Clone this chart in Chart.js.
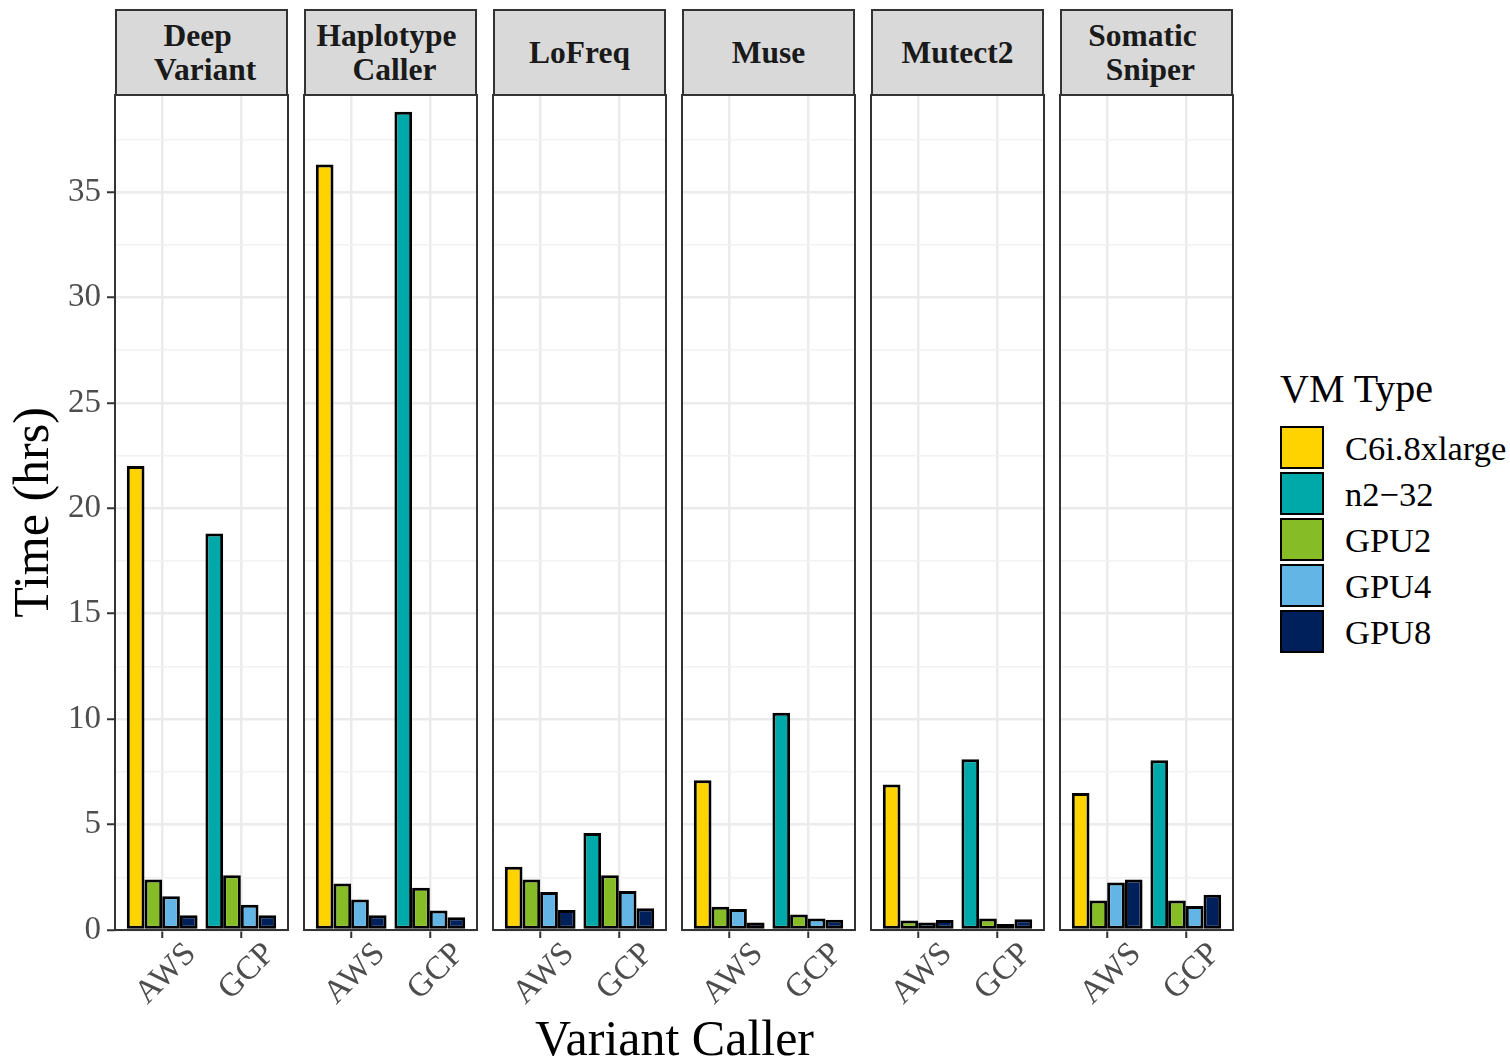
<!DOCTYPE html>
<html>
<head>
<meta charset="utf-8">
<script src="https://cdn.jsdelivr.net/npm/chart.js@4.4.1/dist/chart.umd.min.js"></script>
<style>
  body { margin: 0; background: #fff; }
  #wrap { position: relative; width: 1510px; height: 1064px; overflow: hidden; font-family: 'Liberation Serif', 'Times New Roman', Times, serif; }
  #wrap canvas { position: absolute; }
  .strip { position: absolute; top: 9px; height: 83px; width: 169px; background: #d9d9d9; border: 2px solid #333;
    display: flex; flex-direction: column; justify-content: center; align-items: center;
    font-weight: bold; font-size: 31.5px; line-height: 34px; color: #1a1a1a; white-space: pre; }
  .key { position: absolute; left: 1280px; width: 40px; height: 39px; border: 2px solid #000; }
  .keyLabel { position: absolute; left: 1345px; font-size: 34.5px; line-height: 46px; color: #000; white-space: nowrap; }
</style>
</head>
<body>
<div id="wrap">
  <div id="xTitle" style="position:absolute;left:115px;width:1119px;top:1012px;text-align:center;font-size:50px;line-height:52px;color:#000">Variant Caller</div>
  <div style="position:absolute;left:1280px;top:369px;font-size:40px;line-height:40px;color:#000">VM Type</div>
</div>
<script>
const callers = [['Deep ', ' Variant'], ['Haplotype ', ' Caller'], ['LoFreq'], ['Muse'], ['Mutect2'], ['Somatic ', ' Sniper']];
const platforms = ['AWS', 'GCP'];
const vmTypes = ['C6i.8xlarge', 'n2\u221232', 'GPU2', 'GPU4', 'GPU8'];

// hours, one value per caller (AWS uses C6i.8xlarge, GCP uses n2-32 for the CPU run)
const awsC6i  = [22.0, 36.3, 3.0, 7.1, 6.9, 6.5];
const gcpN2   = [18.8, 38.8, 4.6, 10.3, 8.1, 8.05];
const awsGpu2 = [2.4, 2.2, 2.4, 1.1, 0.45, 1.4];
const gcpGpu2 = [2.6, 2.0, 2.6, 0.73, 0.54, 1.4];
const awsGpu4 = [1.6, 1.45, 1.8, 1.0, 0.35, 2.25];
const gcpGpu4 = [1.2, 0.93, 1.85, 0.54, 0.28, 1.14];
const awsGpu8 = [0.7, 0.7, 0.95, 0.36, 0.47, 2.4];
const gcpGpu8 = [0.7, 0.6, 1.03, 0.49, 0.51, 1.67];

const vmColors = ['#FFD300', '#00A9A9', '#86BC25', '#62B5E5', '#00205B'];

const FONT = "'Liberation Serif', 'Times New Roman', Times, serif";
const PANEL_W = 173;
const PANEL_STEP = 189;
const FIRST_LEFT = 115;
const CANVAS_TOP = 55;
const Y_MAX = 39.6;

const wrap = document.getElementById('wrap');

const slots = [
  { aws: awsC6i, gcp: gcpN2, colors: [vmColors[0], vmColors[1]] },
  { aws: awsGpu2, gcp: gcpGpu2, colors: [vmColors[2], vmColors[2]] },
  { aws: awsGpu4, gcp: gcpGpu4, colors: [vmColors[3], vmColors[3]] },
  { aws: awsGpu8, gcp: gcpGpu8, colors: [vmColors[4], vmColors[4]] }
];

const frame = {
  id: 'frame',
  afterDraw(chart) {
    const a = chart.chartArea;
    const ctx = chart.ctx;
    ctx.save();
    ctx.strokeStyle = '#333';
    ctx.lineWidth = 2;
    ctx.strokeRect(a.left, a.top, a.right - a.left, a.bottom - a.top);
    ctx.restore();
  }
};

function isMajor(v) {
  return Math.abs(v % 5) < 1e-6;
}

function makePanel(i) {
  const first = i === 0;
  const panelLeft = FIRST_LEFT + i * PANEL_STEP;
  const padLeft = first ? 0 : 80;
  const canvasLeft = first ? 0 : panelLeft - padLeft;
  const width = (first ? FIRST_LEFT : padLeft) + PANEL_W + 40;
  const height = 1064 - CANVAS_TOP;

  const canvas = document.createElement('canvas');
  canvas.width = width;
  canvas.height = height;
  canvas.style.left = canvasLeft + 'px';
  canvas.style.top = CANVAS_TOP + 'px';
  wrap.appendChild(canvas);

  const strip = document.createElement('div');
  strip.className = 'strip';
  strip.style.left = panelLeft + 'px';
  callers[i].forEach(line => {
    const s = document.createElement('span');
    s.textContent = line;
    strip.appendChild(s);
  });
  wrap.appendChild(strip);

  new Chart(canvas, {
    type: 'bar',
    data: {
      datasets: slots.map(s => ({
        data: [{ x: 1, y: s.aws[i] }, { x: 2, y: s.gcp[i] }],
        backgroundColor: s.colors,
        borderColor: '#000',
        borderWidth: 3,
        borderSkipped: false,
        categoryPercentage: 0.9,
        barPercentage: 1
      }))
    },
    options: {
      responsive: false,
      animation: false,
      layout: { padding: { left: padLeft, right: 40, top: 40, bottom: 0 } },
      plugins: { legend: { display: false }, tooltip: { enabled: false } },
      scales: {
        x: {
          type: 'linear',
          min: 0.4,
          max: 2.6,
          offset: false,
          afterBuildTicks: axis => { axis.ticks = platforms.map((p, k) => ({ value: k + 1 })); },
          afterFit: axis => { axis.height = 134; },
          border: { display: false },
          grid: { offset: false, color: '#EBEBEB', lineWidth: 2.5, tickColor: '#333', tickLength: 8, tickWidth: 2 },
          ticks: {
            callback: v => platforms[v - 1],
            font: { family: FONT, size: 33 },
            color: '#4D4D4D',
            minRotation: 45,
            maxRotation: 45,
            autoSkip: false,
            padding: -3,
            labelOffset: 29
          }
        },
        y: {
          min: 0,
          max: Y_MAX,
          afterFit: axis => { axis.width = first ? FIRST_LEFT : 0; },
          border: { display: false },
          grid: {
            color: ctx => isMajor(ctx.tick.value) ? '#EBEBEB' : '#F2F2F2',
            lineWidth: ctx => isMajor(ctx.tick.value) ? 2.5 : 1.4,
            drawTicks: first,
            tickColor: ctx => isMajor(ctx.tick.value) ? '#333' : 'rgba(0,0,0,0)',
            tickLength: 8,
            tickWidth: 2
          },
          ticks: {
            display: first,
            stepSize: 2.5,
            includeBounds: false,
            autoSkip: false,
            callback: v => isMajor(v) ? v : '',
            font: { family: FONT, size: 33 },
            color: '#4D4D4D',
            padding: 6
          },
          title: {
            display: first,
            text: 'Time (hrs)',
            font: { family: FONT, size: 50 },
            color: '#000',
            padding: { top: 5, bottom: 0 }
          }
        }
      }
    },
    plugins: [frame]
  });
}

callers.forEach((c, i) => makePanel(i));

// legend
vmTypes.forEach((name, k) => {
  const top = 426 + k * 46;
  const key = document.createElement('div');
  key.className = 'key';
  key.style.top = top + 'px';
  key.style.background = vmColors[k];
  wrap.appendChild(key);
  const label = document.createElement('div');
  label.className = 'keyLabel';
  label.style.top = (top - 1) + 'px';
  label.textContent = name;
  wrap.appendChild(label);
});
</script>
</body>
</html>
